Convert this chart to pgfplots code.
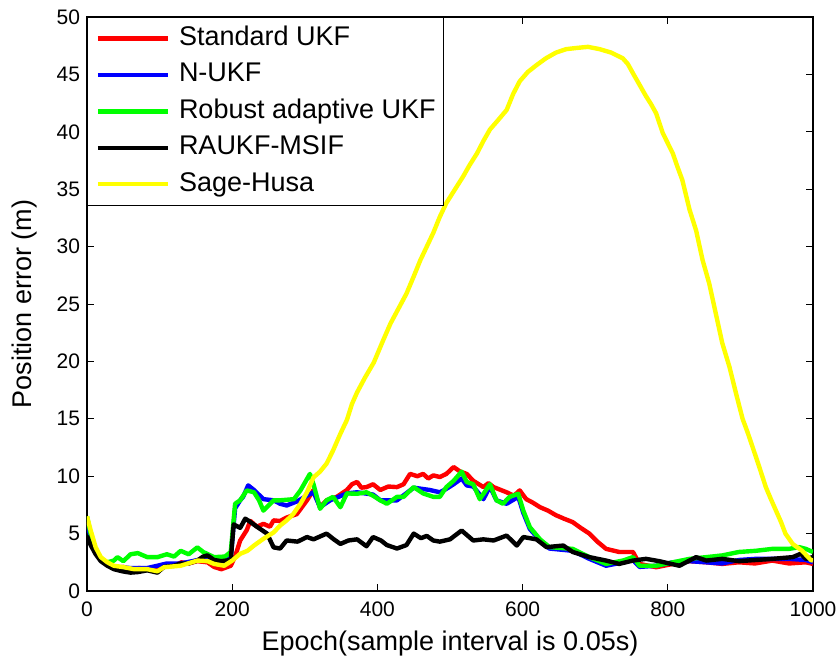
\documentclass[border=0pt]{standalone}
\usepackage{fontspec}
\setmainfont{Liberation Sans}
\usepackage{pgfplots}
\pgfplotsset{compat=1.18}
\definecolor{cred}{RGB}{255,0,0}
\definecolor{cblue}{RGB}{0,0,255}
\definecolor{cgreen}{RGB}{0,255,0}
\definecolor{cyellow}{RGB}{255,255,0}
\begin{document}
\begin{tikzpicture}
\begin{axis}[
  scale only axis,
  width=363pt, height=287pt,
  xmin=0, xmax=1000, ymin=0, ymax=50,
  xtick={0,200,...,1000}, ytick={0,5,...,50},
  tick align=inside,
  major tick length=3.5pt,
  tick style={black, line width=0.5pt},
  axis line style={black, line width=0.6pt},
  /pgf/number format/assume math mode=true,
  /pgf/number format/1000 sep={},
  ticklabel style={font=\fontsize{10.5}{12}\selectfont},
  xticklabel style={yshift=-2pt},
  xlabel={Epoch(sample interval is 0.05s)},
  ylabel={Position error (m)},
  xlabel style={at={(axis description cs:0.5,0)}, anchor=base, yshift=-29.5pt, font=\fontsize{13.5}{15}\selectfont},
  ylabel style={at={(axis description cs:-0.0854,0.5)}, anchor=center, font=\fontsize{13.5}{15}\selectfont},
  every axis plot/.append style={line width=2.2pt, line join=round},
  legend image code/.code={\draw[#1] (0pt,0pt) -- (35pt,0pt);},
  legend cell align=left,
  legend style={at={(0,1)}, anchor=north west, draw=black, line width=0.6pt,
    font=\fontsize{13.5}{15}\selectfont, inner xsep=4pt, inner ysep=4.2pt,
    row sep=5.6pt, column sep=4.5pt,
    nodes={inner sep=0pt, text height=9.7pt, text depth=2.9pt}},
]
% Standard UKF
\addplot[cred] table {
0 6.0
5 5.0
12 3.5
19 2.8
28 2.3
40 2.0
50 2.1
60 1.9
72 2.0
83 1.9
100 2.1
110 2.3
120 2.2
130 2.5
140 2.4
152 2.6
166 2.5
175 2.1
185 1.9
198 2.2
204 3.0
211 4.4
220 5.3
225 6.1
234 5.6
243 5.85
252 5.6
257 6.15
266 6.1
275 6.4
289 6.7
303 7.9
312 8.8
321 7.3
330 7.9
344 8.2
358 8.8
365 9.3
372 9.5
378 9.0
385 9.05
394 9.3
404 8.8
415 9.1
427 9.05
436 9.3
445 10.2
455 10.0
463 10.2
470 9.8
477 10.07
486 9.93
495 10.2
505 10.8
514 10.4
523 10.2
532 9.6
546 9.05
553 9.4
560 9.05
570 8.8
578 8.6
588 8.3
596 8.76
605 8.0
614 7.7
624 7.3
635 7.0
646 6.6
657 6.3
669 6.0
680 5.5
692 5.0
703 4.3
715 3.67
733 3.4
752 3.4
761 2.36
784 2.07
807 2.36
830 2.6
853 2.5
875 2.36
898 2.5
920 2.4
944 2.65
967 2.4
990 2.5
1000 2.36
};
\addlegendentry{Standard UKF}
% N-UKF
\addplot[cblue] table {
0 5.8
5 4.8
12 3.4
19 2.7
28 2.3
40 2.1
60 2.0
83 2.0
97 2.2
110 2.4
129 2.4
145 2.6
160 2.8
175 2.6
190 2.6
198 2.9
204 7.2
211 7.9
215 8.2
222 9.2
230 8.8
243 8.0
257 7.9
266 7.6
275 7.45
289 7.8
303 8.3
312 8.6
321 7.3
335 7.9
358 8.5
372 8.6
394 8.4
404 7.9
427 7.9
450 9.0
472 8.8
486 8.6
495 8.9
505 9.3
516 9.8
523 9.2
532 9.1
546 8.0
555 9.1
564 7.9
578 7.6
594 8.2
601 6.8
610 5.4
624 4.4
637 3.7
669 3.5
692 2.8
715 2.2
738 2.5
752 2.7
761 2.1
784 2.2
807 2.5
830 2.6
853 2.5
875 2.4
898 2.7
921 2.8
944 2.8
967 2.8
990 2.7
1000 2.5
};
\addlegendentry{N-UKF}
% Robust adaptive UKF
\addplot[cgreen] table {
0 6.5
5 5.0
12 3.5
19 2.8
28 2.5
37 2.65
42 2.95
50 2.6
60 3.2
70 3.3
83 2.95
97 2.95
110 3.2
120 3.0
129 3.5
140 3.2
152 3.8
160 3.4
175 2.95
190 3.0
198 3.4
204 7.6
211 7.9
220 8.76
230 8.6
237 7.9
243 7.0
257 7.9
266 7.9
285 8.0
294 8.76
307 10.2
312 9.3
321 7.16
330 7.9
339 8.2
349 7.3
358 8.5
372 8.47
385 8.6
394 8.3
404 7.9
413 7.6
427 8.2
436 8.2
450 9.05
463 8.5
477 8.2
486 8.2
495 9.05
505 9.6
516 10.4
523 9.5
532 9.3
541 8.0
555 9.3
564 7.9
573 7.6
582 8.2
594 8.47
601 7.0
610 5.56
624 4.5
637 3.82
669 3.67
692 2.95
715 2.36
738 2.65
752 2.95
761 2.2
784 2.2
807 2.5
830 2.8
853 2.95
875 3.1
898 3.4
921 3.5
944 3.67
967 3.67
981 3.82
990 3.67
1000 3.4
};
\addlegendentry{Robust adaptive UKF}
% RAUKF-MSIF
\addplot[black] table {
0 4.8
5 4.0
12 3.2
19 2.6
28 2.2
37 1.9
50 1.7
60 1.6
70 1.65
83 1.8
90 1.7
97 1.6
106 2.1
120 2.2
129 2.4
140 2.4
152 2.65
160 3.0
166 3.1
175 2.7
185 2.6
198 2.7
202 5.8
211 5.5
218 6.3
223 6.1
234 5.6
248 5.0
257 3.8
266 3.7
275 4.4
290 4.3
303 4.7
312 4.5
330 5.0
340 4.5
349 4.1
360 4.4
372 4.5
385 3.9
394 4.7
405 4.4
413 4.0
427 3.7
440 4.0
450 5.0
460 4.6
468 4.8
477 4.4
486 4.3
500 4.5
516 5.27
532 4.4
546 4.5
560 4.4
578 4.83
592 3.96
601 4.7
619 4.5
633 3.82
656 3.96
669 3.4
692 2.95
715 2.65
733 2.36
752 2.65
770 2.8
788 2.6
816 2.2
839 2.95
853 2.65
875 2.8
898 2.6
921 2.7
944 2.8
972 2.95
983 3.24
990 2.8
1000 2.95
};
\addlegendentry{RAUKF-MSIF}
% Sage-Husa
\addplot[cyellow] table {
0 6.5
5 5.3
12 3.8
19 2.95
28 2.5
37 2.2
51 2.07
65 1.9
83 1.9
97 1.72
106 2.07
129 2.2
152 2.65
166 2.6
175 2.36
189 2.2
200 2.65
211 3.24
221 3.5
230 3.96
243 4.55
257 5.1
266 5.7
275 6.15
284 6.7
294 7.6
303 8.6
312 9.9
321 10.4
330 11.1
339 12.25
349 13.7
358 14.9
365 16.3
372 17.3
383 18.6
395 19.9
407 21.7
418 23.3
429 24.6
440 25.9
450 27.4
459 28.8
468 30.0
477 31.2
486 32.6
495 33.8
507 35.0
518 36.1
527 37.1
537 38.1
546 39.2
555 40.2
566 41.0
578 41.9
587 43.3
596 44.4
607 45.2
619 45.8
632 46.4
646 46.9
660 47.2
674 47.3
690 47.4
706 47.2
722 46.9
738 46.4
745 45.9
752 45.1
761 44.1
770 43.1
777 42.4
784 41.6
793 39.9
800 39.0
807 38.1
813 37.0
820 35.8
830 33.2
839 31.4
848 28.8
857 26.8
866 24.2
875 21.6
885 19.5
894 17.2
903 15.0
910 13.8
917 12.5
926 10.8
935 9.05
942 8.0
949 7.0
956 6.0
962 5.0
972 4.1
985 3.5
997 2.7
1000 2.65
};
\addlegendentry{Sage-Husa}
\end{axis}
\pgfresetboundingbox
\useasboundingbox (-43.5pt,-33pt) rectangle (375.5pt,295.5pt);
\end{tikzpicture}
\end{document}
